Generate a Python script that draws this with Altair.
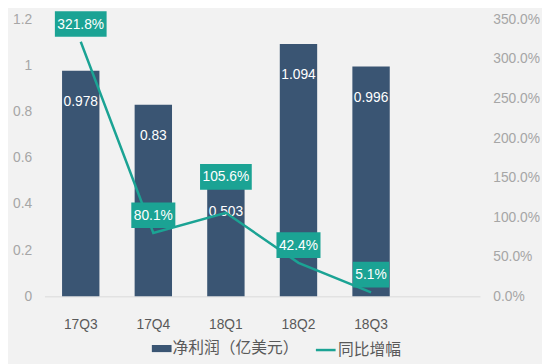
import altair as alt
import pandas as pd

categories = ["17Q3", "17Q4", "18Q1", "18Q2", "18Q3"]
profit = [0.978, 0.83, 0.503, 1.094, 0.996]
growth = [321.8, 80.1, 105.6, 42.4, 5.1]
series_names = ["净利润（亿美元）", "同比增幅"]
left_ticks = [0, 0.2, 0.4, 0.6, 0.8, 1.0, 1.2]
right_ticks = [0, 50, 100, 150, 200, 250, 300, 350]

BLUE = "#3a5573"
TEAL = "#1ba394"
FONT = "Liberation Sans, Noto Sans CJK SC"
CJK = "Noto Sans CJK SC"

df = pd.DataFrame({
    "q": categories,
    "profit": profit,
    "growth": growth,
    "plab": [str(v) for v in profit],
    "glab": [f"{v:.1f}%" for v in growth],
})

x_domain = categories + ["_"]
x_axis = alt.Axis(
    title=None, ticks=False, labelAngle=0, labelFontSize=14, labelColor="#595959",
    labelFont=FONT, labelPadding=22, domainColor="#d9d9d9", domainWidth=1,
    labelExpr="datum.label == '_' ? '' : datum.label", grid=False,
)
x_scale = alt.Scale(domain=x_domain, paddingInner=0.485, paddingOuter=0.2425)
x_enc = alt.X("q:N", scale=x_scale, sort=None, axis=x_axis)

left_axis = alt.Axis(
    title=None, values=left_ticks, format="~g", grid=False, ticks=False, domain=False,
    labelFontSize=14, labelColor="#a6a6a6", labelFont=FONT, labelPadding=13, orient="left")
right_axis = alt.Axis(
    title=None, values=right_ticks, grid=False, ticks=False, domain=False,
    labelExpr="format(datum.value, '.1f') + '%'",
    labelFontSize=14, labelColor="#a6a6a6", labelFont=FONT, labelPadding=13, orient="right")

legend_common = dict(
    orient="none", direction="horizontal", title=None,
    labelFontSize=16, labelColor="#595959", labelFont=CJK, symbolSize=400,
    labelOffset=1, symbolOpacity=1,
)
legend_bar = alt.Legend(
    legendX=109, legendY=324, symbolType="M-1,-0.36L1,-0.36L1,0.36L-1,0.36Z",
    symbolStrokeWidth=0, **legend_common,
)
legend_line = alt.Legend(
    legendX=274, legendY=324, symbolType="stroke", symbolStrokeWidth=2.5,
    **legend_common,
)

y_left = alt.Scale(domain=[0, 1.2])
y_right = alt.Scale(domain=[0, 350])
y_l = alt.Y("profit:Q", scale=y_left, axis=left_axis)
y_r = alt.Y("growth:Q", scale=y_right, axis=right_axis)

base = alt.Chart(df)

bars = base.transform_calculate(s="'净利润（亿美元）'").mark_bar().encode(
    x=x_enc,
    y=y_l,
    color=alt.Color("s:N", scale=alt.Scale(domain=[series_names[0]], range=[BLUE]), legend=legend_bar),
)
bar_labels = base.mark_text(color="white", fontSize=14, font=FONT, baseline="middle", dy=32).encode(
    x=x_enc,
    y=y_l,
    text="plab:N",
)
left = alt.layer(bars, bar_labels)

line = base.transform_calculate(s="'同比增幅'").mark_line(strokeWidth=2.5).encode(
    x=x_enc,
    y=y_r,
    stroke=alt.Stroke("s:N", scale=alt.Scale(domain=[series_names[1]], range=[TEAL]), legend=legend_line),
)


def boxes(filt, off):
    b = base.transform_filter(filt).transform_calculate(
        bw="7.8*length(datum.glab)+5.7",
    ).transform_calculate(
        sz="datum.bw*datum.bw", h="26/datum.bw",
    ).transform_calculate(
        shp="'M-1,-'+datum.h+'L1,-'+datum.h+'L1,'+datum.h+'L-1,'+datum.h+'Z'",
    ).mark_point(filled=True, opacity=1, strokeWidth=0, color=TEAL, yOffset=off).encode(
        x=x_enc,
        y=y_r,
        shape=alt.Shape("shp:N", scale=None),
        size=alt.Size("sz:Q", scale=None),
    )
    t = base.transform_filter(filt).mark_text(
        color="white", fontSize=14, font=FONT, baseline="middle", dy=off + 0.5
    ).encode(
        x=x_enc,
        y=y_r,
        text="glab:N",
    )
    return [b, t]


right = alt.layer(
    line,
    *boxes("datum.q != '18Q1'", -18),
    *boxes("datum.q == '18Q1'", -36.5),
)

chart = alt.layer(left, right).resolve_scale(y="independent").properties(
    width=442, height=281,
    autosize=alt.AutoSizeParams(type="none"),
    padding={"left": 37, "top": 9, "right": 63, "bottom": 66},
    background="#f2f2f2",
).configure_view(stroke=None)

chart.save("out.html", embed_options={"renderer": "svg", "actions": False})
